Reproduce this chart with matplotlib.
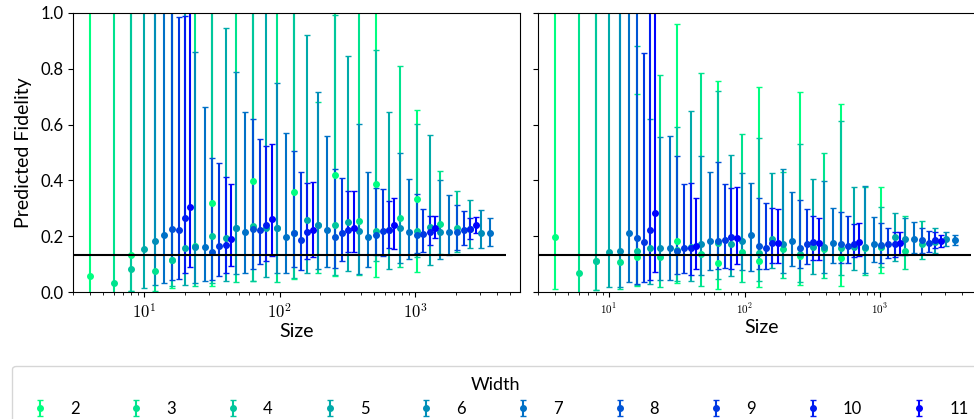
import numpy as np
import matplotlib
matplotlib.use('Agg')
import matplotlib.pyplot as plt
from matplotlib.ticker import FuncFormatter, MultipleLocator

plt.rcParams['font.family'] = ['Lato', 'DejaVu Sans']
plt.rcParams['mathtext.fontset'] = 'cm'

widths = [2, 3, 4, 5, 6, 7, 8, 9, 10, 11]
depths = [2, 4, 8, 16, 32, 64, 128, 256, 512]
baseline = 0.132
baseline_span = (3, 4700)

# left panel: mean and error bar ends, one row per width
left_mean = [
    [0.057, 0.133, 0.114, 0.320, 0.399, 0.358, 0.419, 0.387, 0.335],
    [0.031, 0.076, 0.166, 0.230, 0.230, 0.240, 0.256, 0.264, 0.245],
    [0.084, 0.115, 0.200, 0.237, 0.210, 0.239, 0.220, 0.217, 0.228],
    [0.153, 0.158, 0.194, 0.228, 0.258, 0.252, 0.222, 0.234, 0.226],
    [0.183, 0.160, 0.228, 0.228, 0.241, 0.220, 0.231, 0.215, 0.213],
    [0.205, 0.161, 0.214, 0.196, 0.221, 0.198, 0.216, 0.216, 0.210],
    [0.227, 0.143, 0.226, 0.213, 0.196, 0.205, 0.205, 0.216],
    [0.222, 0.165, 0.222, 0.186, 0.213, 0.220, 0.208, 0.222],
    [0.265, 0.170, 0.239, 0.214, 0.222, 0.222, 0.215, 0.226],
    [0.303, 0.191, 0.260, 0.222, 0.228, 0.241, 0.231, 0.239],
]
left_low = [
    [-0.05, 0.005, 0.013, 0.023, 0.039, 0.045, 0.057, 0.055, 0.072],
    [-0.05, 0.004, 0.023, 0.035, 0.037, 0.070, 0.061, 0.091, 0.136],
    [0.005, 0.023, 0.031, 0.039, 0.050, 0.060, 0.113, 0.127, 0.143],
    [0.016, 0.025, 0.038, 0.055, 0.070, 0.075, 0.082, 0.096, 0.157],
    [0.026, 0.031, 0.065, 0.069, 0.081, 0.063, 0.105, 0.117, 0.157],
    [0.031, 0.038, 0.069, 0.069, 0.088, 0.091, 0.117, 0.134, 0.165],
    [0.043, 0.043, 0.084, 0.091, 0.087, 0.133, 0.140, 0.151],
    [0.048, 0.059, 0.100, 0.079, 0.110, 0.129, 0.143, 0.168],
    [0.067, 0.069, 0.110, 0.117, 0.145, 0.157, 0.170, 0.189],
    [0.091, 0.094, 0.128, 0.124, 0.145, 0.153, 0.192, 0.211],
]
left_high = [
    [1.3, 1.3, 1.3, 1.3, 1.3, 1.3, 1.3, 1.3, 0.652],
    [1.3, 1.3, 1.3, 1.3, 1.3, 0.680, 1.3, 0.809, 0.435],
    [1.3, 1.3, 1.3, 1.3, 1.3, 0.993, 0.867, 0.602, 0.361],
    [1.3, 1.3, 0.946, 1.3, 0.922, 0.847, 0.644, 0.563, 0.331],
    [1.3, 0.859, 0.787, 0.748, 0.716, 0.602, 0.500, 0.400, 0.293],
    [1.3, 0.664, 0.645, 0.571, 0.560, 0.431, 0.404, 0.349, 0.264],
    [1.3, 0.479, 0.619, 0.505, 0.440, 0.374, 0.350, 0.311],
    [0.985, 0.461, 0.550, 0.431, 0.409, 0.368, 0.296, 0.290],
    [0.990, 0.413, 0.523, 0.390, 0.361, 0.326, 0.272, 0.264],
    [1.3, 0.387, 0.530, 0.393, 0.361, 0.336, 0.274, 0.269],
]

# right panel
right_mean = [
    [0.198, 0.112, 0.124, 0.183, 0.103, 0.111, 0.129, 0.123, 0.160],
    [0.067, 0.106, 0.127, 0.136, 0.145, 0.155, 0.153, 0.157, 0.148],
    [0.110, 0.147, 0.150, 0.177, 0.141, 0.136, 0.157, 0.160, 0.171],
    [0.145, 0.157, 0.160, 0.171, 0.189, 0.162, 0.160, 0.196, 0.180],
    [0.148, 0.157, 0.171, 0.183, 0.172, 0.162, 0.162, 0.190, 0.190],
    [0.210, 0.157, 0.184, 0.204, 0.184, 0.177, 0.171, 0.189, 0.186],
    [0.192, 0.148, 0.183, 0.165, 0.159, 0.171, 0.168, 0.186],
    [0.179, 0.159, 0.186, 0.159, 0.171, 0.165, 0.171, 0.177],
    [0.222, 0.159, 0.198, 0.174, 0.178, 0.171, 0.171, 0.186],
    [0.284, 0.166, 0.195, 0.177, 0.174, 0.180, 0.177, 0.184],
]
right_low = [
    [0.012, 0.007, 0.020, 0.033, 0.012, 0.017, 0.027, 0.022, 0.069],
    [-0.05, 0.010, 0.019, 0.022, 0.037, 0.050, 0.049, 0.060, 0.081],
    [0.007, 0.025, 0.040, 0.045, 0.040, 0.035, 0.060, 0.090, 0.117],
    [0.019, 0.030, 0.039, 0.057, 0.085, 0.065, 0.079, 0.111, 0.140],
    [0.017, 0.043, 0.060, 0.079, 0.067, 0.067, 0.069, 0.133, 0.166],
    [0.035, 0.043, 0.079, 0.076, 0.093, 0.103, 0.109, 0.139, 0.168],
    [0.030, 0.065, 0.081, 0.081, 0.085, 0.103, 0.103, 0.139],
    [0.037, 0.067, 0.087, 0.081, 0.099, 0.103, 0.121, 0.145],
    [0.043, 0.061, 0.081, 0.103, 0.115, 0.124, 0.127, 0.157],
    [0.073, 0.081, 0.099, 0.103, 0.115, 0.129, 0.133, 0.162],
]
right_high = [
    [1.3, 1.3, 0.710, 0.959, 0.756, 0.736, 0.718, 0.674, 0.378],
    [1.3, 1.3, 0.777, 0.786, 0.565, 0.430, 0.497, 0.378, 0.272],
    [1.3, 0.883, 0.593, 0.722, 0.553, 0.530, 0.613, 0.306, 0.256],
    [1.3, 0.619, 0.649, 0.491, 0.425, 0.404, 0.378, 0.284, 0.231],
    [1.3, 0.557, 0.489, 0.425, 0.440, 0.399, 0.380, 0.264, 0.214],
    [1.3, 0.560, 0.429, 0.390, 0.357, 0.300, 0.270, 0.252, 0.204],
    [1.3, 0.487, 0.467, 0.336, 0.330, 0.288, 0.246, 0.228],
    [0.855, 0.387, 0.386, 0.318, 0.296, 0.272, 0.228, 0.219],
    [1.3, 0.392, 0.374, 0.300, 0.272, 0.244, 0.216, 0.214],
    [1.3, 0.336, 0.378, 0.296, 0.264, 0.249, 0.214, 0.204],
]


def width_color(w):
    return plt.cm.winter((max(widths) - w) / (max(widths) - min(widths)))


def draw_panel(ax, means, lows, highs, ticksize):
    for w, m, lo, hi in zip(widths, means, lows, highs):
        m, lo, hi = np.array(m), np.array(lo), np.array(hi)
        sizes = [w * d for d in depths[:len(m)]]
        ax.errorbar(sizes, m, yerr=[m - lo, hi - m], fmt='o', color=width_color(w),
                    markersize=4, elinewidth=1.5, capsize=2, capthick=1, label=str(w))
    ax.hlines(baseline, *baseline_span, color='black', lw=1.5, zorder=5)
    ax.set_xscale('log')
    ax.set_xlim(3, 5950)
    ax.set_ylim(0, 1)
    ax.yaxis.set_major_locator(MultipleLocator(0.2))
    ax.xaxis.set_major_formatter(FuncFormatter(lambda v, _: r'$10^{%d}$' % round(np.log10(v))))
    ax.tick_params(axis='x', labelsize=ticksize)
    ax.tick_params(axis='y', labelsize=12)
    ax.set_xlabel('Size', fontsize=14, labelpad=2)


fig = plt.figure(figsize=(9.74, 4.19), dpi=100)
ax1 = fig.add_axes([0.075, 0.303, 0.459, 0.666])
ax2 = fig.add_axes([0.5524, 0.303, 0.459, 0.666], sharey=ax1)

draw_panel(ax1, left_mean, left_low, left_high, 12)
draw_panel(ax2, right_mean, right_low, right_high, 8)
ax1.set_ylabel('Predicted Fidelity', fontsize=14, labelpad=6)
ax2.tick_params(axis='y', labelleft=False)

handles, labels = ax1.get_legend_handles_labels()
fig.legend(handles, labels, title='Width', loc='upper center', ncol=10,
           bbox_to_anchor=(0.509, 0.147), fontsize=12, title_fontsize=13,
           columnspacing=2.42, handletextpad=0.8, borderpad=0.65)

fig.savefig('out.png', dpi=100)
